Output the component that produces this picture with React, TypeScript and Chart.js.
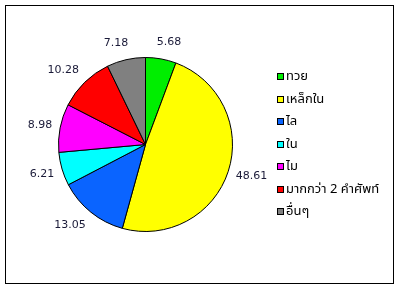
import React, { useEffect, useRef } from "react";
import { Chart, registerables } from "chart.js";

Chart.register(...registerables);

// Share of each category (percent)
const categories = ["ทวย", "เหล็กใน", "ไล", "ใน", "ไม", "มากกว่า 2 คำศัพท์", "อื่นๆ"];
const values = [5.68, 48.61, 13.05, 6.21, 8.98, 10.28, 7.18];
const colors = ["#00ee00", "#ffff00", "#0a64ff", "#00ffff", "#ff00ff", "#ff0000", "#808080"];

const W = 399;
const H = 289;
const LABEL_FONT = "11px 'DejaVu Sans', Tahoma, sans-serif";
const LEGEND_FONT = "13px Tahoma, 'Noto Sans Thai', Loma, Garuda, 'DejaVu Sans', sans-serif";

// White background and thin outer frame
const framePlugin = {
  id: "frame",
  beforeDraw(chart: any) {
    const ctx = chart.ctx;
    ctx.save();
    ctx.fillStyle = "#ffffff";
    ctx.fillRect(0, 0, W, H);
    ctx.strokeStyle = "#000000";
    ctx.lineWidth = 1;
    ctx.strokeRect(5.5, 5.5, 388, 278);
    ctx.restore();
  },
};

// Value labels placed just outside each slice
const valueLabelPlugin = {
  id: "valueLabels",
  afterDatasetsDraw(chart: any) {
    const ctx = chart.ctx;
    const meta = chart.getDatasetMeta(0);
    ctx.save();
    ctx.font = LABEL_FONT;
    ctx.fillStyle = "#1a1a38";
    ctx.textAlign = "center";
    ctx.textBaseline = "middle";
    meta.data.forEach((arc: any, i: number) => {
      const { x, y, startAngle, endAngle, outerRadius } = arc.getProps(
        ["x", "y", "startAngle", "endAngle", "outerRadius"],
        true
      );
      const mid = (startAngle + endAngle) / 2;
      const text = values[i].toFixed(2);
      const hw = ctx.measureText(text).width / 2;
      const c = Math.cos(mid);
      const s = Math.sin(mid);
      const ax = x + (outerRadius + 8) * c;
      const ay = y + (outerRadius + 8) * s;
      const kx = Math.max(-1, Math.min(1, 3 * c));
      ctx.fillText(text, ax + hw * kx, ay + 9 * s);
    });
    ctx.restore();
  },
};

// Legend column on the right
const legendPlugin = {
  id: "sideLegend",
  afterDraw(chart: any) {
    const ctx = chart.ctx;
    ctx.save();
    ctx.font = LEGEND_FONT;
    ctx.textAlign = "left";
    ctx.textBaseline = "middle";
    categories.forEach((label, i) => {
      const cy = Math.round(76 + i * 22.5);
      ctx.fillStyle = colors[i];
      ctx.fillRect(277, cy - 3, 7, 7);
      ctx.strokeStyle = "#000000";
      ctx.lineWidth = 1;
      ctx.strokeRect(277.5, cy - 2.5, 6, 6);
      ctx.fillStyle = "#000000";
      ctx.fillText(label, 286, cy + 1);
    });
    ctx.restore();
  },
};

export default function App() {
  const ref = useRef<HTMLCanvasElement | null>(null);

  useEffect(() => {
    if (!ref.current) return;
    const chart = new Chart(ref.current, {
      type: "pie",
      data: {
        labels: categories,
        datasets: [
          {
            data: values,
            backgroundColor: colors,
            borderColor: "#000000",
            borderWidth: 1,
            hoverBorderWidth: 1,
            hoverOffset: 0,
          },
        ],
      },
      options: {
        responsive: false,
        animation: false,
        events: [],
        layout: { padding: { left: 58, top: 57, right: 166, bottom: 57 } },
        plugins: {
          legend: { display: false },
          tooltip: { enabled: false },
        },
      },
      plugins: [framePlugin, valueLabelPlugin, legendPlugin],
    });
    return () => chart.destroy();
  }, []);

  return (
    <div style={{ position: "fixed", left: 0, top: 0, width: W, height: H }}>
      <canvas ref={ref} width={W} height={H} style={{ display: "block", width: W, height: H }} />
    </div>
  );
}
